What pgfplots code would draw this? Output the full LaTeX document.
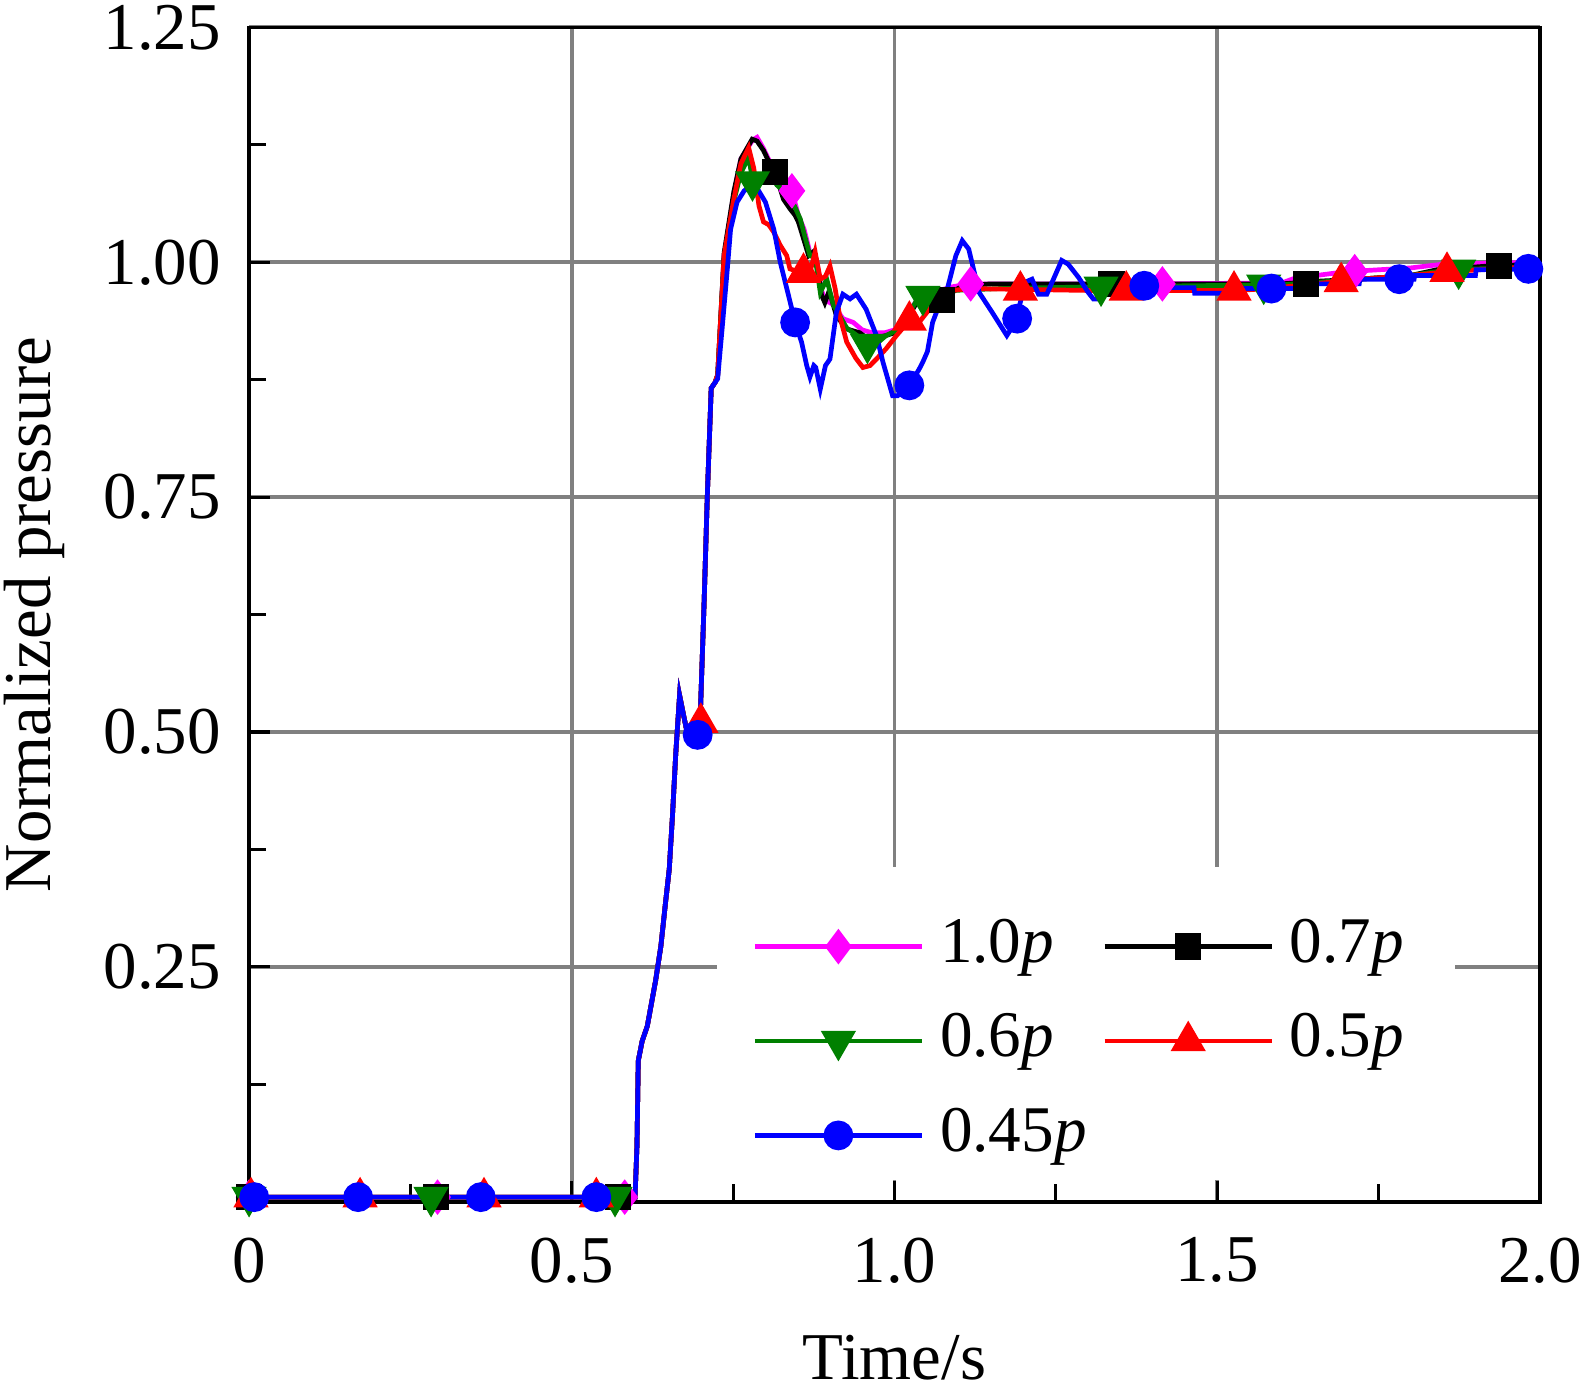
\documentclass[border=0pt]{standalone}
\usepackage{fontspec}
\setmainfont{Liberation Serif}
\usepackage{pgfplots}
\pgfplotsset{compat=1.18}
\newcommand{\fs}{\fontsize{19.2}{23}\selectfont}
\newcommand{\fl}{\fontsize{18.7}{22}\selectfont}
\definecolor{cmag}{RGB}{255,0,255}
\definecolor{cgrn}{RGB}{0,128,0}
\definecolor{cred}{RGB}{255,0,0}
\definecolor{cblu}{RGB}{0,0,255}

\begin{document}
\begin{tikzpicture}
\begin{axis}[
 name=ax, at={(0,0)}, anchor=south west,
 width=370.57pt, height=337.14pt, scale only axis,
 xmin=0, xmax=2, ymin=0, ymax=1.25,
 xtick={0,0.5,1,1.5,2}, xticklabels={0,0.5,1.0,1.5,2.0},
 ytick={0.25,0.5,0.75,1,1.25}, yticklabels={0.25,0.50,0.75,1.00,1.25},
 minor xtick={0.25,0.75,1.25,1.75},
 minor ytick={0.125,0.375,0.625,0.875,1.125},
 tick pos=left, tick align=inside,
 major tick length=6pt, minor tick length=5pt,
 every tick/.style={black, line width=0.9pt},
 xmajorgrids, ymajorgrids,
 major grid style={color=gray, line width=1.1pt},
 axis line style={black, line width=1pt},
 tick label style={font=\fs},
 xticklabel style={yshift=-6.8pt},
 yticklabel style={xshift=-4.6pt},
 label style={font=\fs},
 xlabel={Time/s}, ylabel={Normalized pressure},
 xlabel style={at={(axis description cs:0.5,-0.1325)}, anchor=center},
 ylabel style={at={(axis description cs:-0.1665,0.5)}, anchor=center},
 legend columns=2, legend cell align=left,
 legend style={at={(0.3894,0.2431)}, anchor=north west, draw=none, fill=none,
   inner xsep=0pt, inner ysep=0pt, font=\fl,
   nodes={inner sep=0pt, text height=13pt, text depth=4pt},
   row sep=10.1pt,
   /tikz/every odd column/.append style={column sep=4.5pt},
   /tikz/every even column/.append style={column sep=4.5pt}},
 legend image code/.code={\draw[mark repeat=2,mark phase=2,#1] plot coordinates {(0pt,0pt) (24pt,0pt) (48pt,0pt)};},
 every axis plot/.append style={line width=1.35pt},
]
\fill[white] (axis cs:0.7247,0.023) rectangle (axis cs:1.8687,0.3563);

\addlegendimage{cmag, line width=1.35pt, mark=diamond*, mark size=4pt, mark options={solid}}
\addlegendentry{1.0\textit{p}}
\addlegendimage{black, line width=1.35pt, mark=square*, mark size=3.1pt, mark options={solid}}
\addlegendentry{0.7\textit{p}}
\addlegendimage{cgrn, line width=1.35pt, mark=triangle*, mark size=4.5pt, mark options={solid, rotate=180}}
\addlegendentry{0.6\textit{p}}
\addlegendimage{cred, line width=1.35pt, mark=triangle*, mark size=4.5pt, mark options={solid}}
\addlegendentry{0.5\textit{p}}
\addlegendimage{cblu, line width=1.35pt, mark=*, mark size=3.6pt, mark options={solid}}
\addlegendentry{0.45\textit{p}}

% ---------- 1.0p ----------
\addplot[cmag, no markers, forget plot] table {
0 0.005
0.3 0.005
0.598 0.005
0.601 0.06
0.603 0.150
0.609 0.171
0.617 0.187
0.630 0.236
0.638 0.272
0.645 0.317
0.651 0.354
0.656 0.411
0.661 0.476
0.667 0.539
0.677 0.505
0.685 0.498
0.692 0.497
0.699 0.516
0.705 0.638
0.710 0.752
0.716 0.866
0.722 0.872
0.726 0.880
0.736 1.008
0.751 1.073
0.762 1.110
0.780 1.130
0.787 1.133
0.797 1.121
0.808 1.105
0.820 1.090
0.832 1.080
0.841 1.076
0.851 1.050
0.860 1.035
0.869 1.010
0.879 1.003
0.887 0.970
0.892 0.960
0.905 0.955
0.920 0.940
0.936 0.936
0.950 0.928
0.965 0.925
0.985 0.925
1.000 0.928
1.038 0.962
1.060 0.968
1.090 0.974
1.118 0.977
1.400 0.977
1.600 0.978
1.620 0.983
1.700 0.990
1.800 0.994
1.850 0.998
2.000 1.000
};
\addplot[cmag, only marks, mark=diamond*, mark size=4pt, forget plot] table {
0.0 0.005
0.292 0.005
0.582 0.005
0.841 1.076
1.118 0.977
1.415 0.977
1.713 0.990
};

% ---------- 0.7p ----------
\addplot[black, no markers, forget plot] table {
0 0.005
0.3 0.005
0.598 0.005
0.601 0.06
0.603 0.150
0.609 0.171
0.617 0.187
0.630 0.236
0.638 0.272
0.645 0.317
0.651 0.354
0.656 0.411
0.661 0.476
0.667 0.539
0.677 0.505
0.685 0.498
0.692 0.497
0.699 0.516
0.705 0.638
0.710 0.752
0.716 0.866
0.722 0.872
0.726 0.880
0.736 1.010
0.751 1.075
0.762 1.110
0.7795 1.131
0.787 1.129
0.797 1.119
0.808 1.103
0.815 1.096
0.823 1.078
0.828 1.067
0.838 1.057
0.846 1.050
0.851 1.043
0.856 1.032
0.867 1.007
0.874 1.011
0.879 1.000
0.887 0.965
0.892 0.957
0.899 0.970
0.905 0.955
0.910 0.943
0.926 0.929
0.946 0.925
0.956 0.920
0.972 0.920
0.987 0.922
1.000 0.925
1.015 0.935
1.038 0.961
1.059 0.966
1.085 0.966
1.105 0.975
1.150 0.977
1.600 0.977
1.660 0.980
1.720 0.982
1.800 0.986
1.840 0.992
1.920 0.996
2.000 0.998
};
\addplot[black, only marks, mark=square*, mark size=3.1pt, forget plot] table {
0.0 0.005
0.29 0.005
0.572 0.005
0.815 1.096
1.074 0.960
1.336 0.977
1.638 0.977
1.936 0.996
};

% ---------- 0.6p ----------
\addplot[cgrn, no markers, forget plot] table {
0 0.005
0.3 0.005
0.598 0.005
0.601 0.06
0.603 0.150
0.609 0.171
0.617 0.187
0.630 0.236
0.638 0.272
0.645 0.317
0.651 0.354
0.656 0.411
0.661 0.476
0.667 0.539
0.677 0.505
0.685 0.498
0.692 0.497
0.699 0.516
0.705 0.638
0.710 0.752
0.716 0.866
0.722 0.872
0.726 0.880
0.736 1.005
0.751 1.065
0.762 1.095
0.774 1.112
0.780 1.088
0.790 1.085
0.800 1.088
0.810 1.090
0.818 1.082
0.833 1.073
0.845 1.060
0.854 1.046
0.869 1.007
0.877 1.005
0.885 0.968
0.895 0.982
0.905 0.955
0.926 0.930
0.946 0.920
0.959 0.913
0.975 0.915
0.987 0.922
1.010 0.930
1.038 0.964
1.064 0.966
1.090 0.970
1.162 0.972
1.320 0.974
1.600 0.976
1.660 0.979
1.720 0.982
1.800 0.986
1.860 0.992
2.000 0.995
};
\addplot[cgrn, only marks, mark=triangle*, mark size=4.5pt, mark options={rotate=180}, forget plot] table {
0.0 0.005
0.282 0.005
0.567 0.005
0.780 1.086
0.958 0.913
1.044 0.964
1.320 0.974
1.572 0.976
1.874 0.992
};

% ---------- 0.5p ----------
\addplot[cred, no markers, forget plot] table {
0 0.005
0.3 0.005
0.598 0.005
0.601 0.06
0.603 0.150
0.609 0.171
0.617 0.187
0.630 0.236
0.638 0.272
0.645 0.317
0.651 0.354
0.656 0.411
0.661 0.476
0.667 0.539
0.677 0.505
0.685 0.498
0.692 0.497
0.699 0.516
0.705 0.638
0.710 0.752
0.716 0.866
0.722 0.872
0.726 0.880
0.736 1.007
0.751 1.067
0.762 1.105
0.774 1.122
0.782 1.100
0.790 1.060
0.797 1.043
0.805 1.040
0.813 1.032
0.823 1.018
0.833 1.007
0.838 0.993
0.850 0.990
0.862 0.990
0.870 0.992
0.877 1.011
0.885 0.982
0.893 0.985
0.900 0.996
0.908 0.972
0.915 0.943
0.926 0.915
0.940 0.898
0.951 0.888
0.962 0.890
0.972 0.897
0.987 0.908
1.003 0.922
1.023 0.938
1.038 0.936
1.054 0.950
1.069 0.963
1.090 0.970
1.115 0.972
1.300 0.970
1.530 0.970
1.580 0.972
1.650 0.977
1.720 0.982
1.800 0.986
1.860 0.990
1.950 0.994
2.000 0.995
};
\addplot[cred, only marks, mark=triangle*, mark size=4.5pt, forget plot] table {
0.003 0.005
0.172 0.005
0.364 0.005
0.538 0.005
0.700 0.510
0.859 0.989
1.023 0.938
1.195 0.970
1.359 0.970
1.526 0.970
1.692 0.979
1.856 0.990
};

% ---------- 0.45p ----------
\addplot[cblu, no markers, forget plot] table {
0 0.005
0.3 0.005
0.598 0.005
0.601 0.06
0.603 0.150
0.609 0.171
0.617 0.187
0.630 0.236
0.638 0.272
0.645 0.317
0.651 0.354
0.656 0.411
0.661 0.476
0.667 0.539
0.677 0.505
0.685 0.498
0.692 0.497
0.699 0.516
0.705 0.638
0.710 0.752
0.716 0.866
0.722 0.872
0.726 0.876
0.733 0.930
0.741 0.993
0.746 1.035
0.756 1.064
0.767 1.076
0.777 1.081
0.787 1.079
0.800 1.064
0.813 1.035
0.823 1.000
0.836 0.964
0.846 0.936
0.856 0.915
0.864 0.890
0.869 0.878
0.875 0.890
0.878 0.888
0.885 0.865
0.893 0.890
0.900 0.897
0.910 0.947
0.920 0.966
0.931 0.961
0.941 0.966
0.956 0.950
0.972 0.922
0.982 0.894
0.997 0.858
1.005 0.858
1.023 0.869
1.038 0.886
1.044 0.894
1.051 0.905
1.059 0.936
1.069 0.954
1.079 0.964
1.095 1.007
1.105 1.023
1.115 1.014
1.131 0.968
1.151 0.947
1.174 0.922
1.187 0.936
1.203 0.979
1.213 0.982
1.223 0.966
1.236 0.966
1.259 1.002
1.269 0.998
1.285 0.984
1.300 0.968
1.308 0.961
1.318 0.961
1.328 0.970
1.341 0.977
1.356 0.975
1.430 0.973
1.464 0.973
1.465 0.967
1.536 0.967
1.540 0.972
1.626 0.972
1.627 0.977
1.720 0.977
1.721 0.982
1.805 0.982
1.806 0.986
1.900 0.986
1.901 0.992
2.000 0.993
};
\addplot[cblu, only marks, mark=*, mark size=3.6pt, forget plot] table {
0.008 0.005
0.169 0.005
0.359 0.005
0.538 0.005
0.695 0.497
0.846 0.936
1.023 0.869
1.190 0.940
1.387 0.975
1.584 0.972
1.782 0.982
1.982 0.993
};
\end{axis}
\pgfresetboundingbox
\path ([shift={(-71.5pt,-54pt)}]ax.south west) rectangle ([shift={(383.5pt,345pt)}]ax.south west);
\end{tikzpicture}
\end{document}
